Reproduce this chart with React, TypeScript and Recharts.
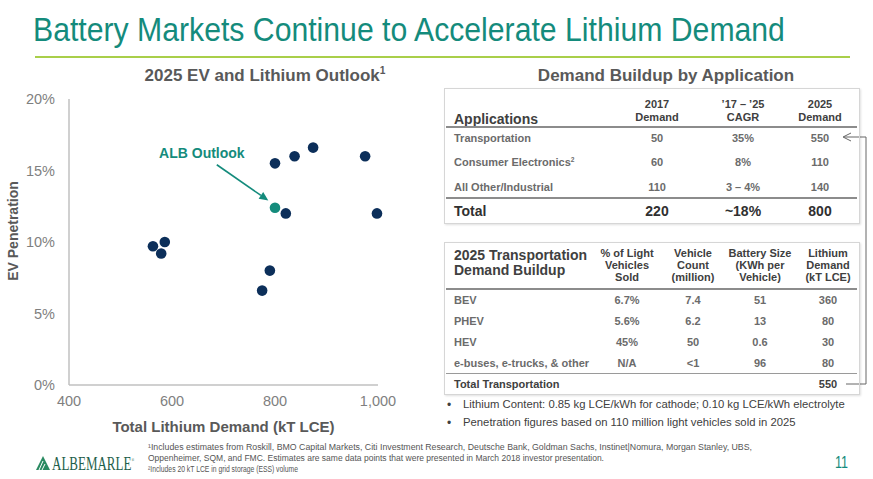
import React from "react";
import { ScatterChart, Scatter, XAxis, YAxis, ReferenceLine, ReferenceDot } from "recharts";

// 2025 outlook estimates (kT LCE vs EV penetration %)
const estimateDemand = [563, 579, 586, 775, 790, 800, 821, 838, 874, 975, 998];
const estimatePenetration = [9.7, 9.2, 10.0, 6.6, 8.0, 15.5, 12.0, 16.0, 16.6, 16.0, 12.0];
const albDemand = [800];
const albPenetration = [12.4];
const xTicks = [400, 600, 800, 1000];
const yTicks = [0, 5, 10, 15, 20];

// demand buildup table
const applications = ["Transportation", "Consumer Electronics", "All Other/Industrial"];
const demand2017 = ["50", "60", "110"];
const cagr = ["35%", "8%", "3 – 4%"];
const demand2025 = ["550", "110", "140"];
const totalRow = ["220", "~18%", "800"];

// transportation buildup table
const vehicleTypes = ["BEV", "PHEV", "HEV", "e-buses, e-trucks, & other"];
const shareOfSales = ["6.7%", "5.6%", "45%", "N/A"];
const vehicleCount = ["7.4", "6.2", "50", "<1"];
const batterySize = ["51", "13", "0.6", "96"];
const lithiumDemand = ["360", "80", "30", "80"];
const transportTotal = "550";

const estimates = estimateDemand.map((d, i) => ({ demand: d, pen: estimatePenetration[i] }));
const alb = albDemand.map((d, i) => ({ demand: d, pen: albPenetration[i] }));

const TEAL = "#148b7c";
const NAVY = "#0c2f5a";
const FONT = "'Liberation Sans', Arial, sans-serif";

const dot = (props: any) => <circle cx={props.cx} cy={props.cy} r={5.3} fill={props.fill} />;

const arrowShape = (props: any) => {
  const { x1, y1, x2, y2 } = props;
  const a = Math.atan2(y2 - y1, x2 - x1);
  const L = 9, W = 4;
  const bx = x2 - L * Math.cos(a), by = y2 - L * Math.sin(a);
  const p = `${x2},${y2} ${bx - W * Math.sin(a)},${by + W * Math.cos(a)} ${bx + W * Math.sin(a)},${by - W * Math.cos(a)}`;
  return (
    <g>
      <line x1={x1} y1={y1} x2={bx} y2={by} stroke={TEAL} strokeWidth={1.6} />
      <polygon points={p} fill={TEAL} />
    </g>
  );
};

function T({ x, y, children, align = "center", size = 11, weight = 700, color = "#6b6b6b", style = {} }: any) {
  const tx = align === "center" ? "-50%" : align === "right" ? "-100%" : "0";
  return (
    <div
      style={{
        position: "absolute", left: x, top: y, transform: `translate(${tx},-50%)`,
        whiteSpace: "nowrap", fontSize: size, fontWeight: weight, color, lineHeight: 1, ...style,
      }}
    >
      {children}
    </div>
  );
}

function HLine({ x, y, w, h = 2, color = "#8c8c8c" }: any) {
  return <div style={{ position: "absolute", left: x, top: y - h / 2, width: w, height: h, background: color }} />;
}

const sup = (s: string) => <sup style={{ fontSize: "0.6em", verticalAlign: "0.6em", lineHeight: 0 }}>{s}</sup>;

export default function App() {
  const rowY1 = [138, 162, 187];
  const cols1 = [657, 743, 820];
  const rowY2 = [300, 321, 342, 363];
  const cols2 = [627, 693, 760, 828];

  return (
    <div style={{ position: "absolute", left: 0, top: 0, width: 873, height: 479, background: "#fff", fontFamily: FONT, overflow: "hidden" }}>
      {/* slide title, footnotes, logo */}
      <svg width={873} height={479} style={{ position: "absolute", left: 0, top: 0 }}>
        <text transform="translate(33,41) scale(1,1.13)" fontSize={30.2} fill={TEAL} fontFamily={FONT}>
          Battery Markets Continue to Accelerate Lithium Demand
        </text>
        <rect x={35} y={56} width={815} height={2} fill="#a9cf4a" />
        <g fontFamily={FONT} fontSize={8.4} fill="#555">
          <text x={148} y={450} textLength={604} lengthAdjust="spacingAndGlyphs">
            ¹Includes estimates from Roskill, BMO Capital Markets, Citi Investment Research, Deutsche Bank, Goldman Sachs, Instinet|Nomura, Morgan Stanley, UBS,
          </text>
          <text x={148} y={461} textLength={456} lengthAdjust="spacingAndGlyphs">
            Oppenheimer, SQM, and FMC. Estimates are same data points that were presented in March 2018 investor presentation.
          </text>
          <text x={148} y={472} textLength={150} lengthAdjust="spacingAndGlyphs">
            ²Includes 20 kT LCE in grid storage (ESS) volume
          </text>
        </g>
        <g fill="#1d7a5c">
          <polygon points="36,470 43,456 50,470" fill="#2a8a62" />
          <line x1={39} y1={470} x2={43} y2={461} stroke="#fff" strokeWidth={1} />
          <line x1={42} y1={470} x2={45} y2={464} stroke="#fff" strokeWidth={1} />
          <text transform="translate(52,470) scale(1,1.45)" fontSize={13} fontFamily="'Liberation Serif', serif" fill="#1f5f4b">
            ALBEMARLE<tspan fontSize={3.5} dy={-5.5}>®</tspan>
          </text>
        </g>
        <text x={835} y={468} fontSize={16} fill={TEAL} fontFamily={FONT} textLength={13} lengthAdjust="spacingAndGlyphs">11</text>
        {/* connector from transportation total to table row */}
        <g stroke="#666" strokeWidth={1} fill="none">
          <polyline points="846,384 866,384 866,137 844,137" />
          <polyline points="851,133 843,137 851,141" />
        </g>
      </svg>

      {/* left chart */}
      <T x={265} y={75} size={17} color="#595959">2025 EV and Lithium Outlook{sup("1")}</T>
      <T x={13} y={231} size={14} color="#595959" style={{ transform: "translate(-50%,-50%) rotate(-90deg)" }}>EV Penetration</T>
      <div style={{ position: "absolute", left: 0, top: 60 }}>
        <ScatterChart width={420} height={380} margin={{ top: 39, right: 42, left: 0, bottom: 0 }}>
          <XAxis
            type="number"
            dataKey="demand"
            domain={[400, 1000]}
            ticks={xTicks}
            tickFormatter={(v: number) => v.toLocaleString("en-US")}
            axisLine={{ stroke: "#c0c0c0", strokeWidth: 1.5 }}
            tickLine={false}
            tickSize={0}
            tickMargin={11}
            height={55}
            tick={{ fill: "#7f7f7f", fontSize: 14.5 }}
            label={{ value: "Total Lithium Demand (kT LCE)", position: "insideBottom", offset: 8, fill: "#595959", fontSize: 15, fontWeight: 700 }}
          />
          <YAxis
            type="number"
            dataKey="pen"
            domain={[0, 20]}
            ticks={yTicks}
            tickFormatter={(v: number) => `${v}%`}
            axisLine={{ stroke: "#c0c0c0", strokeWidth: 1.5 }}
            tickLine={false}
            tickSize={0}
            tickMargin={14}
            width={69}
            tick={{ fill: "#7f7f7f", fontSize: 14.5 }}
          />
          <Scatter data={estimates} fill={NAVY} shape={dot} isAnimationActive={false} />
          <Scatter data={alb} fill={TEAL} shape={dot} isAnimationActive={false} />
          <ReferenceLine segment={[{ x: 687, y: 15.4 }, { x: 787, y: 12.9 }]} shape={arrowShape} />
          <ReferenceDot
            x={658}
            y={16.2}
            r={0}
            label={{ value: "ALB Outlook", position: "center", fill: TEAL, fontSize: 14, fontWeight: 700 }}
          />
        </ScatterChart>
      </div>

      {/* right tables */}
      <T x={666} y={75} size={17} color="#595959">Demand Buildup by Application</T>
      <div style={{ position: "absolute", left: 444, top: 88, width: 414, height: 134, border: "1px solid #d6d6d6", boxShadow: "1px 1px 2px rgba(0,0,0,0.12)" }} />
      <T x={454} y={119} align="left" size={14} color="#404040">Applications</T>
      {[["2017", "Demand"], ["’17 –  ’25", "CAGR"], ["2025", "Demand"]].map((h, i) => (
        <React.Fragment key={i}>
          <T x={cols1[i]} y={104} color="#404040">{h[0]}</T>
          <T x={cols1[i]} y={117} color="#404040">{h[1]}</T>
        </React.Fragment>
      ))}
      <HLine x={446} y={127} w={411} />
      {applications.map((a, r) => (
        <React.Fragment key={a}>
          <T x={454} y={rowY1[r]} align="left">{a}{r === 1 ? sup("2") : null}</T>
          <T x={cols1[0]} y={rowY1[r]}>{demand2017[r]}</T>
          <T x={cols1[1]} y={rowY1[r]}>{cagr[r]}</T>
          <T x={cols1[2]} y={rowY1[r]}>{demand2025[r]}</T>
        </React.Fragment>
      ))}
      <HLine x={446} y={198} w={411} />
      <T x={454} y={211} align="left" size={14} color="#303030">Total</T>
      {totalRow.map((v, i) => (
        <T key={i} x={cols1[i]} y={211} size={14} color="#303030">{v}</T>
      ))}

      <div style={{ position: "absolute", left: 444, top: 242, width: 414, height: 151, border: "1px solid #d6d6d6", boxShadow: "1px 1px 2px rgba(0,0,0,0.12)" }} />
      <T x={454} y={255} align="left" size={14} color="#404040">2025 Transportation</T>
      <T x={454} y={270} align="left" size={14} color="#404040">Demand Buildup</T>
      {[
        ["% of Light", "Vehicles", "Sold"],
        ["Vehicle", "Count", "(million)"],
        ["Battery Size", "(KWh per", "Vehicle)"],
        ["Lithium", "Demand", "(kT LCE)"],
      ].map((h, i) => (
        <React.Fragment key={i}>
          {h.map((s, j) => (
            <T key={j} x={cols2[i]} y={253 + j * 12} color="#404040">{s}</T>
          ))}
        </React.Fragment>
      ))}
      <HLine x={446} y={289} w={411} />
      {vehicleTypes.map((v, r) => (
        <React.Fragment key={v}>
          <T x={454} y={rowY2[r]} align="left">{v}</T>
          <T x={cols2[0]} y={rowY2[r]}>{shareOfSales[r]}</T>
          <T x={cols2[1]} y={rowY2[r]}>{vehicleCount[r]}</T>
          <T x={cols2[2]} y={rowY2[r]}>{batterySize[r]}</T>
          <T x={cols2[3]} y={rowY2[r]}>{lithiumDemand[r]}</T>
        </React.Fragment>
      ))}
      <HLine x={446} y={373} w={411} h={1} color="#9a9a9a" />
      <T x={454} y={384} align="left" color="#404040">Total Transportation</T>
      <T x={cols2[3]} y={384} color="#404040">{transportTotal}</T>

      <T x={447} y={405} align="left" size={12} weight={400} color="#404040">•</T>
      <T x={463} y={405} align="left" size={11.3} weight={400} color="#404040">Lithium Content:  0.85 kg LCE/kWh for cathode; 0.10 kg LCE/kWh electrolyte</T>
      <T x={447} y={423} align="left" size={12} weight={400} color="#404040">•</T>
      <T x={463} y={423} align="left" size={11.3} weight={400} color="#404040">Penetration figures based on 110 million light vehicles sold in 2025</T>
    </div>
  );
}
